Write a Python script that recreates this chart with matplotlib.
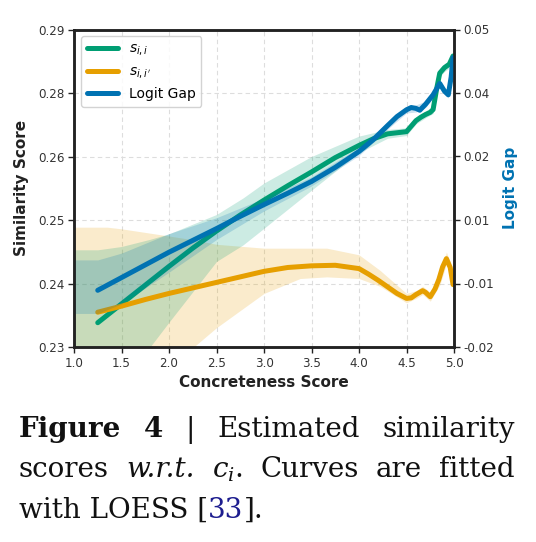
import numpy as np
import matplotlib
matplotlib.use("Agg")
import matplotlib.pyplot as plt
from matplotlib.ticker import FixedLocator, FormatStrFormatter

# ---------------- data ----------------
x_sii = [1.25, 1.5, 1.75, 2.0, 2.25, 2.5, 2.75, 3.0, 3.25, 3.5, 3.75, 4.0, 4.15, 4.3,
         4.45, 4.5, 4.55, 4.6, 4.65, 4.7, 4.75, 4.78, 4.82, 4.85, 4.9, 4.95, 4.99]
y_sii = [0.2344, 0.2378, 0.2412, 0.2446, 0.2479, 0.2510, 0.2539, 0.2566, 0.2592, 0.2617,
         0.2643, 0.2665, 0.2677, 0.2686, 0.2689, 0.2690, 0.2700, 0.2710, 0.2716, 0.2721,
         0.2725, 0.2730, 0.2770, 0.2796, 0.2806, 0.2812, 0.2827]

x_sii_band = [1.0, 1.25, 1.5, 1.8, 2.0, 2.5, 2.78, 3.0, 3.5, 4.0, 4.3, 4.5, 4.6, 4.7, 4.78,
              4.85, 4.9, 4.95, 4.99]
sii_upper = [0.2476, 0.2476, 0.2482, 0.2495, 0.2505, 0.2540, 0.2570, 0.2597, 0.2645, 0.2682,
             0.2694, 0.2697, 0.2716, 0.2727, 0.2737, 0.2803, 0.2813, 0.2819, 0.2834]
sii_lower = [0.2215, 0.2220, 0.2250, 0.2300, 0.2345, 0.2455, 0.2485, 0.2515, 0.2584, 0.2652,
             0.2678, 0.2683, 0.2704, 0.2715, 0.2723, 0.2789, 0.2799, 0.2805, 0.2820]

x_siip = [1.25, 1.5, 1.75, 2.0, 2.25, 2.5, 2.75, 3.0, 3.25, 3.5, 3.75, 4.0, 4.1, 4.2, 4.3,
          4.4, 4.5, 4.55, 4.6, 4.67, 4.7, 4.75, 4.8, 4.84, 4.88, 4.92, 4.96, 4.99]
y_siip = [0.2363, 0.2374, 0.2386, 0.2397, 0.2407, 0.2417, 0.2427, 0.2437, 0.2444, 0.2447,
          0.2448, 0.2442, 0.2432, 0.2421, 0.2409, 0.2397, 0.2388, 0.2389, 0.2395, 0.2402,
          0.2399, 0.2391, 0.2405, 0.2422, 0.2445, 0.2460, 0.2444, 0.2413]

x_siip_band = [1.0, 1.35, 1.5, 2.0, 2.26, 2.5, 3.0, 3.38, 3.66, 4.0, 4.22, 4.5, 4.6, 4.67,
               4.75, 4.85, 4.92, 4.96, 4.99]
siip_upper = [0.2517, 0.2517, 0.2514, 0.2501, 0.2494, 0.2486, 0.2479, 0.2479, 0.2479, 0.2467,
              0.2439, 0.2397, 0.2402, 0.2410, 0.2399, 0.2432, 0.2472, 0.2454, 0.2423]
siip_lower = [0.2140, 0.2170, 0.2185, 0.2260, 0.2300, 0.2335, 0.2397, 0.2424, 0.2427, 0.2424,
              0.2410, 0.2380, 0.2388, 0.2395, 0.2383, 0.2412, 0.2450, 0.2436, 0.2405]

x_gap = [1.25, 1.5, 1.75, 2.0, 2.25, 2.5, 2.75, 3.0, 3.25, 3.5, 3.75, 4.0, 4.15, 4.3, 4.4,
         4.5, 4.55, 4.6, 4.64, 4.7, 4.78, 4.85, 4.9, 4.94, 4.97, 4.99]
y_gap = [-0.0075, -0.0047, -0.0019, 0.0009, 0.0035, 0.0061, 0.0088, 0.0114, 0.0139, 0.0165,
         0.0196, 0.0231, 0.0257, 0.0288, 0.0308, 0.0323, 0.0328, 0.0326, 0.0322, 0.0335,
         0.0356, 0.0381, 0.0364, 0.0356, 0.0395, 0.0438]

x_gap_band = [1.0, 1.25, 1.5, 2.0, 2.5, 3.0, 3.5, 4.0, 4.3, 4.5, 4.6, 4.7, 4.78, 4.85, 4.9,
              4.94, 4.97, 4.99]
gap_upper = [-0.0008, -0.0008, 0.0007, 0.0050, 0.0085, 0.0128, 0.0175, 0.0240, 0.0296, 0.0330,
             0.0334, 0.0342, 0.0363, 0.0388, 0.0371, 0.0363, 0.0402, 0.0446]
gap_lower = [-0.0126, -0.0126, -0.0105, -0.0035, 0.0037, 0.0100, 0.0155, 0.0222, 0.0280, 0.0316,
             0.0318, 0.0328, 0.0349, 0.0374, 0.0357, 0.0349, 0.0388, 0.0430]

x_ticks = [1.0, 1.5, 2.0, 2.5, 3.0, 3.5, 4.0, 4.5, 5.0]
left_lim = (0.23, 0.2875)
right_lim = (-0.02, 0.05)

labels = ["$s_{i,i}$", "$s_{i,i'}$", "Logit Gap"]
x_label = "Concreteness Score"
y_label = "Similarity Score"
y2_label = "Logit Gap"

GREEN, ORANGE, BLUE = "#009E73", "#E69F00", "#0072B2"

# ---------------- figure ----------------
W_PX, H_PX = 536, 542
fig = plt.figure(figsize=(W_PX / 100, H_PX / 100), dpi=100)
ax = fig.add_axes([74 / W_PX, 1 - 347 / H_PX, 380 / W_PX, 317.5 / H_PX])
ax2 = ax.twinx()

ax.fill_between(x_siip_band, siip_lower, siip_upper, color=ORANGE, alpha=0.2, lw=0)
ax.fill_between(x_sii_band, sii_lower, sii_upper, color=GREEN, alpha=0.2, lw=0)
l1, = ax.plot(x_sii, y_sii, color=GREEN, lw=3.6, solid_capstyle="round", label=labels[0])
l2, = ax.plot(x_siip, y_siip, color=ORANGE, lw=3.6, solid_capstyle="round", label=labels[1])
ax2.fill_between(x_gap_band, gap_lower, gap_upper, color=BLUE, alpha=0.2, lw=0)
l3, = ax2.plot(x_gap, y_gap, color=BLUE, lw=3.6, solid_capstyle="round", label=labels[2])

ax.set_xlim(1.0, 5.0)
ax.set_ylim(*left_lim)
ax2.set_ylim(*right_lim)
ax.xaxis.set_major_locator(FixedLocator(x_ticks))
ax.xaxis.set_major_formatter(FormatStrFormatter("%.1f"))
ax.yaxis.set_major_locator(FixedLocator(np.linspace(*left_lim, 6)))
ax.yaxis.set_major_formatter(FormatStrFormatter("%.2f"))
ax2.yaxis.set_major_locator(FixedLocator(np.linspace(*right_lim, 6)))
ax2.yaxis.set_major_formatter(FormatStrFormatter("%.2f"))

ax.grid(True, ls=(0, (4, 3)), color="#dddddd", lw=0.8)
ax.set_axisbelow(True)
for a in (ax, ax2):
    for s in a.spines.values():
        s.set_linewidth(1.8)
        s.set_color("#222222")
    a.tick_params(labelsize=8.6, colors="#222222", labelcolor="#333333", length=4, width=1, pad=3)

ax.set_xlabel(x_label, fontsize=11, fontweight="bold", color="#222222", labelpad=4)
ax.set_ylabel(y_label, fontsize=11, fontweight="bold", color="#222222", labelpad=6)
ax2.set_ylabel(y2_label, fontsize=11, fontweight="bold", color=BLUE, labelpad=6)

leg = ax2.legend(handles=[l1, l2, l3], loc="upper left", fontsize=10, handlelength=2.3,
                 handletextpad=0.75, labelspacing=0.45, framealpha=0.85, edgecolor="#cccccc",
                 borderpad=0.4)
for h in leg.get_lines():
    h.set_linewidth(3.6)

# ---------------- caption (justified) ----------------
renderer = fig.canvas.get_renderer()
NAVY = "#1d1d8f"
base = dict(family="DejaVu Serif", fontsize=20, color="#111111")


def make_word(segs, y):
    arts = []
    for s, kw in segs:
        k = dict(base)
        k.update(kw)
        arts.append(fig.text(0, y, s, va="baseline", ha="left", **k))
    return arts


def layout_line(words, y_px, x0_px, x1_px, justify=True):
    y = 1 - y_px / H_PX
    objs = [make_word(w, y) for w in words]
    widths = [[a.get_window_extent(renderer).width / W_PX for a in arts] for arts in objs]
    total = sum(sum(ws) for ws in widths)
    x0, x1 = x0_px / W_PX, x1_px / W_PX
    gap = (x1 - x0 - total) / (len(words) - 1) if (justify and len(words) > 1) else 0
    x = x0
    for arts, ws in zip(objs, widths):
        for a, w in zip(arts, ws):
            a.set_x(x)
            x += w
        x += gap


line1 = [[("Figure", dict(fontweight="bold"))], [("4", dict(fontweight="bold"))],
         [("|", {})], [("Estimated", {})], [("similarity", {})]]
line2 = [[("scores", {})], [("w.r.t.", dict(fontstyle="italic"))],
         [("$c_i$", dict(math_fontfamily="dejavuserif")), (".", {})],
         [("Curves", {})], [("are", {})], [("fitted", {})]]
line3 = [[("with LOESS [", {}), ("33", dict(color=NAVY)), ("].", {})]]

layout_line(line1, 437, 19, 515)
layout_line(line2, 477, 19, 515)
layout_line(line3, 518, 19, 515, justify=False)

fig.savefig("out.png", dpi=100)
